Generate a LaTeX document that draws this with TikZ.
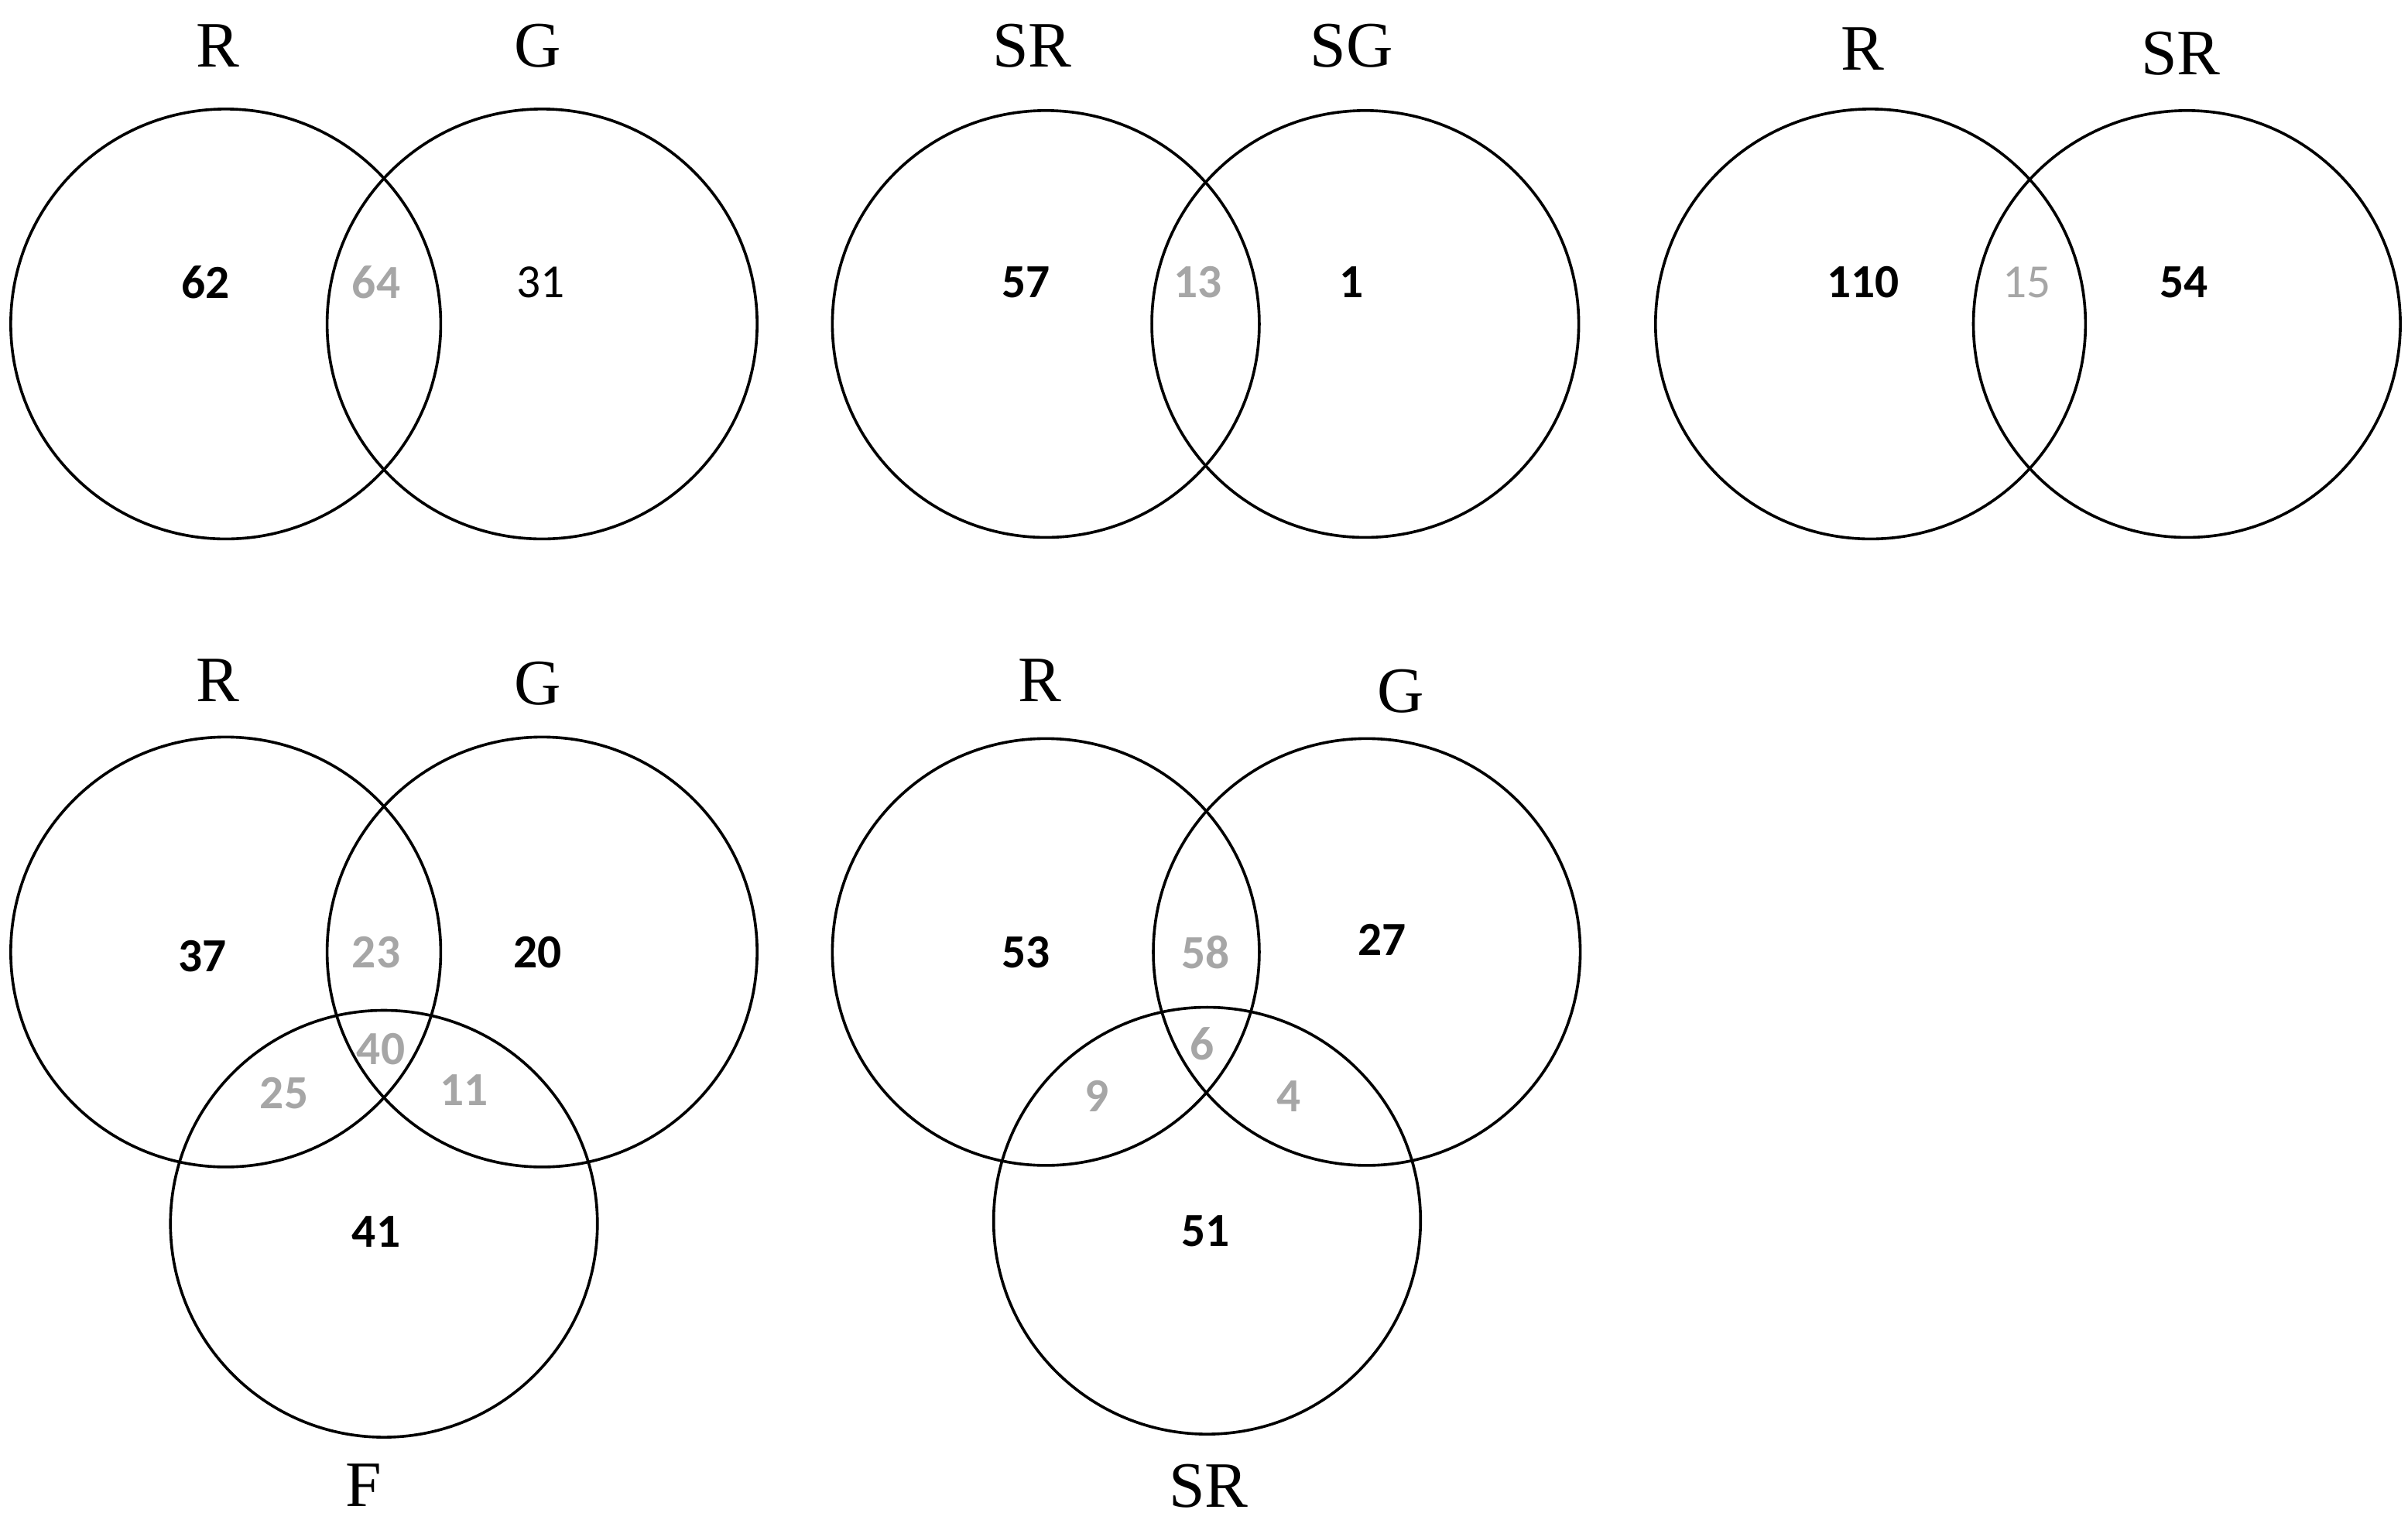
\documentclass[tikz,border=0pt]{standalone}
\usepackage{fontspec}
\setmainfont{Liberation Serif}
\newfontfamily\numf{Carlito}
\begin{document}
\begin{tikzpicture}[x=0.05cm,y=-0.05cm,
  circ/.style={draw=black,line width=2.6pt},
  lab/.style={font=\fontsize{60}{66}\selectfont},
  num/.style={font=\numf\bfseries\fontsize{44}{50}\selectfont},
  numr/.style={font=\numf\fontsize{44}{50}\selectfont},
  gr/.style={text=gray!70}]
\useasboundingbox (0,0) rectangle (1568,996);
% row 1
\draw[circ] (147,211) circle (140);
\draw[circ] (353,211) circle (140);
\draw[circ] (681,211) circle (139);
\draw[circ] (889,211) circle (139);
\draw[circ] (1218,211) circle (140);
\draw[circ] (1424,211) circle (139);
\node[lab] (l1) at (142,30) {R};
\node[lab] (l2) at (350,30) {G};
\node[lab] (l3) at (672,30) {SR};
\node[lab] (l4) at (880,30) {SG};
\node[lab] (l5) at (1213,32) {R};
\node[lab] (l6) at (1420,35) {SR};
\node[num] (n1) at (134,184) {62};
\node[num,gr] (n2) at (245,184) {64};
\node[numr] (n3) at (352,184) {31};
\node[num] (n4) at (668,184) {57};
\node[num,gr] (n5) at (780,184) {13};
\node[num] (n6) at (880,184) {1};
\node[num] (n7) at (1213,184) {110};
\node[numr,gr] (n8) at (1320,184) {15};
\node[num] (n9) at (1422,184) {54};
% row 2
\draw[circ] (147,620) circle (140);
\draw[circ] (353,620) circle (140);
\draw[circ] (250,797) circle (139);
\draw[circ] (681,620) circle (139);
\draw[circ] (890,620) circle (139);
\draw[circ] (786,795) circle (139);
\node[lab] (m1) at (142,443) {R};
\node[lab] (m2) at (350,445) {G};
\node[lab] (m3) at (237,967) {F};
\node[lab] (m4) at (677,443) {R};
\node[lab] (m5) at (912,450) {G};
\node[lab] (m6) at (787,968) {SR};
\node[num] (p1) at (132,623) {37};
\node[num,gr] (p2) at (245,620) {23};
\node[num] (p3) at (350,620) {20};
\node[num,gr] (p4) at (248,683) {40};
\node[num,gr] (p5) at (185,712) {25};
\node[num,gr] (p6) at (302,710) {11};
\node[num] (p7) at (245,802) {41};
\node[num] (q1) at (668,620) {53};
\node[num,gr] (q2) at (785,620) {58};
\node[num] (q3) at (900,612) {27};
\node[num,gr] (q4) at (783,680) {6};
\node[num,gr] (q5) at (714,714) {9};
\node[num,gr] (q6) at (839,714) {4};
\node[num] (q7) at (785,802) {51};
\end{tikzpicture}
\end{document}
